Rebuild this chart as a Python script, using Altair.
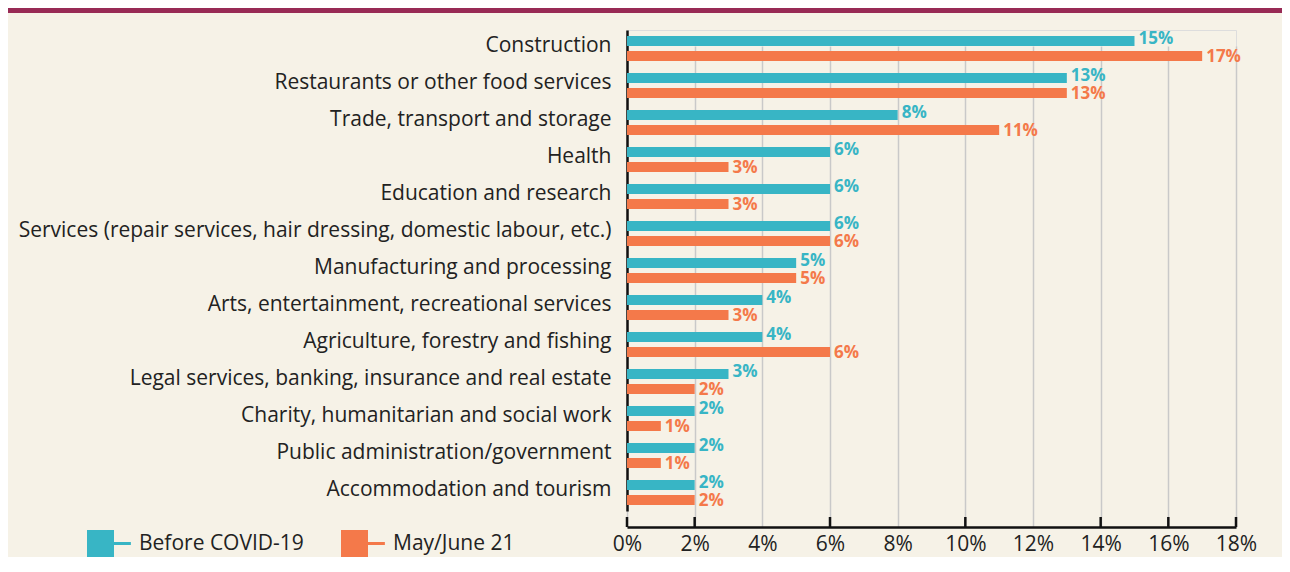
import altair as alt
import pandas as pd

categories = [
    "Construction",
    "Restaurants or other food services",
    "Trade, transport and storage",
    "Health",
    "Education and research",
    "Services (repair services, hair dressing, domestic labour, etc.)",
    "Manufacturing and processing",
    "Arts, entertainment, recreational services",
    "Agriculture, forestry and fishing",
    "Legal services, banking, insurance and real estate",
    "Charity, humanitarian and social work",
    "Public administration/government",
    "Accommodation and tourism",
]
before_covid = [15, 13, 8, 6, 6, 6, 5, 4, 4, 3, 2, 2, 2]
may_june = [17, 13, 11, 3, 3, 6, 5, 3, 6, 2, 1, 1, 2]
series_names = ["Before COVID-19", "May/June 21"]
series_colors = ["#38b5c5", "#f4794a"]
x_ticks = [0, 2, 4, 6, 8, 10, 12, 14, 16, 18]
black_ticks = [0, 2, 6, 10, 14, 16, 18]

rows = []
for c, b, m in zip(categories, before_covid, may_june):
    rows.append({"category": c, "series": series_names[0], "value": b})
    rows.append({"category": c, "series": series_names[1], "value": m})
df = pd.DataFrame(rows)

W, H = 609, 497
FONT = "Open Sans"

x_enc = alt.X(
    "value:Q",
    scale=alt.Scale(domain=[0, 18], nice=False, zero=True),
    axis=alt.Axis(
        values=x_ticks,
        labelExpr="datum.value + '%'",
        title=None,
        grid=True,
        gridColor="#c9c9c9",
        gridWidth=1.5,
        ticks=False,
        domainColor="#111111",
        domainWidth=2.5,
        labelFontSize=21,
        labelColor="#222222",
        labelPadding=6,
        labelFont=FONT,
        labelFlush=False,
        labelOverlap=False,
    ),
)
y_enc = alt.Y(
    "category:N",
    sort=categories,
    scale=alt.Scale(range=[0, 481], paddingInner=0, paddingOuter=0),
    axis=alt.Axis(
        title=None,
        ticks=False,
        domainColor="#111111",
        domainWidth=2.5,
        labelFontSize=21,
        labelColor="#222222",
        labelPadding=16,
        labelLimit=1000,
        labelOffset=-3,
        labelFont=FONT,
    ),
)
yoff_enc = alt.YOffset(
    "series:N",
    sort=series_names,
    scale=alt.Scale(domain=series_names, paddingInner=0.3333, paddingOuter=0.4),
)
color_scale = alt.Scale(domain=series_names, range=series_colors)

legend_symbol = "M-1,-1H1V1H-1Z M1,-0.11H2.25V0.11H1Z"

bars = alt.Chart(df).mark_bar(cornerRadius=0).encode(
    x=x_enc,
    y=y_enc,
    yOffset=yoff_enc,
    color=alt.Color(
        "series:N",
        scale=color_scale,
        sort=series_names,
        legend=alt.Legend(
            title=None,
            orient="none",
            direction="horizontal",
            columns=2,
            legendX=-540,
            legendY=500,
            symbolType=legend_symbol,
            symbolSize=729,
            symbolStrokeWidth=0,
            symbolOpacity=1,
            labelFontSize=21,
            labelColor="#222222",
            labelFont=FONT,
            labelOffset=25,
            columnPadding=37,
            labelLimit=400,
        ),
    ),
)


def value_labels(series, dy):
    return alt.Chart(df).transform_filter(
        alt.datum.series == series
    ).transform_calculate(
        label="datum.value + '%'"
    ).mark_text(
        align="left", baseline="middle", dx=4, dy=dy,
        fontSize=17, fontWeight="bold", font=FONT
    ).encode(
        x=alt.X("value:Q"),
        y=alt.Y("category:N", sort=categories),
        yOffset=alt.YOffset("series:N", sort=series_names),
        text=alt.Text("label:N"),
        color=alt.Color("series:N", scale=color_scale, legend=None),
    )


labels_before = value_labels(series_names[0], -2)
labels_after = value_labels(series_names[1], 1)

ticks_df = pd.DataFrame({"t": black_ticks})
ticks = alt.Chart(ticks_df).mark_rule(color="#111111", strokeWidth=2.5).encode(
    x=alt.X("t:Q"),
    y=alt.value(H - 10),
    y2=alt.value(H),
)

band_df = pd.DataFrame({"b": [0]})
top_band = alt.Chart(band_df).mark_rule(color="#982a55", strokeWidth=5).encode(
    x=alt.value(-619),
    x2=alt.value(W + 46),
    y=alt.value(-19.5),
)

chart = alt.layer(bars, labels_before, labels_after, ticks, top_band).properties(
    width=W,
    height=H,
    autosize=alt.AutoSizeParams(type="none"),
    padding={"left": 619, "top": 22, "right": 46, "bottom": 30},
    background="#f6f2e7",
).configure_view(stroke=None).configure(font=FONT)

chart.save("out.html", embed_options={"renderer": "svg", "actions": False})
